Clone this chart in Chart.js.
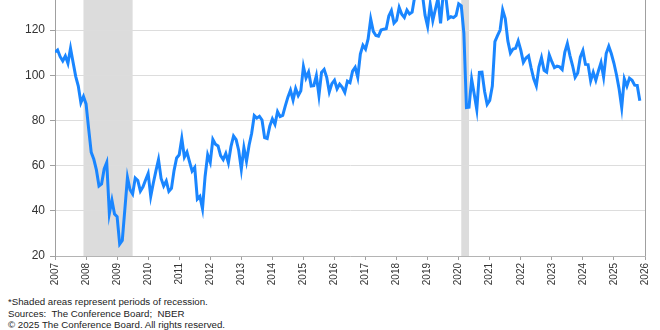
<!DOCTYPE html>
<html>
<head>
<meta charset="utf-8">
<script src="https://cdn.jsdelivr.net/npm/chart.js@4/dist/chart.umd.min.js"></script>
<style>
  html, body { margin: 0; padding: 0; background: #fff; }
  #wrap { position: relative; width: 660px; height: 330px; overflow: hidden; }
  #box { position: absolute; left: 0; top: 0; width: 660px; height: 292px; }
  #notas {
    position: absolute; left: 8px; top: 296px;
    font-family: "Liberation Sans", Arial, sans-serif; font-size: 9.7px;
    line-height: 11.7px; color: #222;
  }
</style>
</head>
<body>
<div id="wrap">
  <div id="box"><canvas id="grafico"></canvas></div>
  <div id="notas">
    *Shaded areas represent periods of recession.<br>
    Sources:&nbsp; The Conference Board;&nbsp; NBER<br>
    &copy; 2025 The Conference Board. All rights reserved.
  </div>
</div>
<script>
// Índice de confiança do consumidor, mensal, jan/2007 até nov/2025
const ANO_INICIO = 2007;
const indice = [
  110.2, 111.2, 108.2, 106.3, 108.5, 105.3, 111.9, 105.6, 99.5, 95.2, 87.8, 90.6,   // 2007
  87.3, 76.4, 65.9, 62.8, 58.1, 51.0, 51.9, 58.5, 61.4, 38.8, 44.7, 38.6,           // 2008
  37.4, 25.3, 26.9, 40.8, 54.8, 49.3, 47.4, 54.5, 53.4, 48.7, 50.6, 53.6,           // 2009
  56.5, 46.4, 52.3, 57.7, 62.7, 54.3, 51.0, 53.2, 48.6, 49.9, 57.8, 63.4,           // 2010
  64.8, 72.0, 63.8, 66.0, 61.7, 57.6, 59.2, 45.2, 46.4, 40.9, 55.2, 64.8,           // 2011
  61.5, 71.6, 69.5, 68.7, 64.4, 62.7, 65.4, 61.3, 68.4, 73.1, 71.5, 66.7,           // 2012
  58.4, 68.0, 61.9, 69.0, 74.3, 82.1, 81.0, 81.8, 80.2, 72.4, 72.0, 77.5,           // 2013
  80.7, 78.3, 83.9, 81.7, 82.2, 86.4, 90.3, 93.4, 89.0, 94.1, 91.0, 93.1,           // 2014
  103.8, 98.8, 101.4, 95.2, 95.4, 99.8, 91.0, 101.3, 102.6, 99.1, 92.6, 96.3,       // 2015
  97.8, 94.0, 96.1, 94.7, 92.4, 97.4, 96.7, 101.8, 103.5, 99.1, 109.4, 113.3,       // 2016
  111.6, 116.1, 124.9, 119.4, 117.6, 117.3, 120.0, 120.4, 120.6, 126.2, 128.6, 123.1, // 2017
  124.3, 130.0, 127.0, 125.6, 128.8, 127.1, 127.9, 134.7, 135.3, 137.9, 135.7, 126.6, // 2018
  121.7, 131.4, 124.2, 129.2, 134.1, 123.0, 135.7, 135.1, 125.1, 125.9, 125.5, 126.5, // 2019
  131.6, 130.7, 118.8, 85.7, 85.9, 98.3, 91.7, 84.8, 101.3, 101.4, 92.9, 87.1,       // 2020
  88.9, 95.2, 114.9, 117.5, 120.0, 128.9, 125.1, 115.2, 109.8, 111.6, 111.9, 115.2, // 2021
  111.1, 105.7, 107.6, 108.6, 103.2, 98.4, 95.3, 103.6, 107.8, 102.2, 101.4, 109.0, // 2022
  106.0, 103.4, 104.0, 103.7, 102.5, 110.1, 114.0, 108.7, 104.3, 99.1, 101.0, 108.0, // 2023
  110.9, 104.8, 104.7, 97.5, 101.3, 97.8, 101.9, 105.6, 99.2, 109.6, 112.8, 109.5,  // 2024
  105.3, 100.1, 93.9, 85.7, 98.4, 95.2, 98.7, 97.8, 95.6, 95.5, 88.7                // 2025
];

// Recessões (NBER) em ano decimal: início e fim
const recessoesInicio = [2007 + 11 / 12, 2020 + 1 / 12];
const recessoesFim = [2009 + 6 / 12, 2020 + 4 / 12];

// Eixos
const anosEixo = [2007, 2026];
const eixoY = { min: 20, max: 133.3, passo: 20 };

// Monta os pontos {x: ano decimal, y: valor}
const pontos = indice.map(function (v, i) {
  return { x: ANO_INICIO + i / 12, y: v };
});

// Faixas cinzas das recessões, desenhadas antes da grade
const faixasRecessao = {
  id: 'faixasRecessao',
  beforeDraw(chart) {
    const ctx = chart.ctx;
    const area = chart.chartArea;
    const x = chart.scales.x;
    ctx.save();
    ctx.fillStyle = '#dcdcdc';
    for (let i = 0; i < recessoesInicio.length; i++) {
      const x1 = x.getPixelForValue(recessoesInicio[i]);
      const x2 = x.getPixelForValue(recessoesFim[i]);
      ctx.fillRect(x1, area.top, x2 - x1, area.bottom - area.top);
    }
    ctx.restore();
  },
  // borda da direita do gráfico
  afterDraw(chart) {
    const ctx = chart.ctx;
    const area = chart.chartArea;
    ctx.save();
    ctx.strokeStyle = '#a0a0a0';
    ctx.lineWidth = 1;
    ctx.beginPath();
    ctx.moveTo(Math.round(area.right) + 0.5, area.top);
    ctx.lineTo(Math.round(area.right) + 0.5, area.bottom);
    ctx.stroke();
    ctx.restore();
  }
};

const fonte = '"Liberation Sans", Arial, sans-serif';

new Chart(document.getElementById('grafico'), {
  type: 'line',
  data: {
    datasets: [{
      data: pontos,
      borderColor: '#1a86ff',
      borderWidth: 3,
      pointRadius: 0,
      tension: 0,
      fill: false
    }]
  },
  options: {
    responsive: true,
    maintainAspectRatio: false,
    animation: false,
    layout: { padding: { left: 0, right: 14, top: 0, bottom: 0 } },
    plugins: {
      legend: { display: false },
      tooltip: { enabled: false }
    },
    scales: {
      x: {
        type: 'linear',
        min: anosEixo[0],
        max: anosEixo[1],
        grid: {
          drawOnChartArea: false,
          tickLength: 4,
          tickColor: '#a0a0a0'
        },
        border: { color: '#b4b4b4' },
        ticks: {
          stepSize: 1,
          minRotation: 90,
          maxRotation: 90,
          padding: 3,
          color: '#333',
          font: { family: fonte, size: 10 },
          callback: function (v) { return String(v); }
        },
        afterFit: function (escala) { escala.height = 36; }
      },
      y: {
        min: eixoY.min,
        max: eixoY.max,
        grid: {
          color: '#dddddd',
          tickLength: 5,
          tickColor: '#a0a0a0'
        },
        border: { color: '#a0a0a0' },
        ticks: {
          stepSize: eixoY.passo,
          includeBounds: false,
          padding: 5,
          color: '#333',
          font: { family: fonte, size: 12 }
        },
        afterFit: function (escala) {
          escala.width = 55;
          escala.paddingTop = 0;
        }
      }
    }
  },
  plugins: [faixasRecessao]
});
</script>
</body>
</html>
